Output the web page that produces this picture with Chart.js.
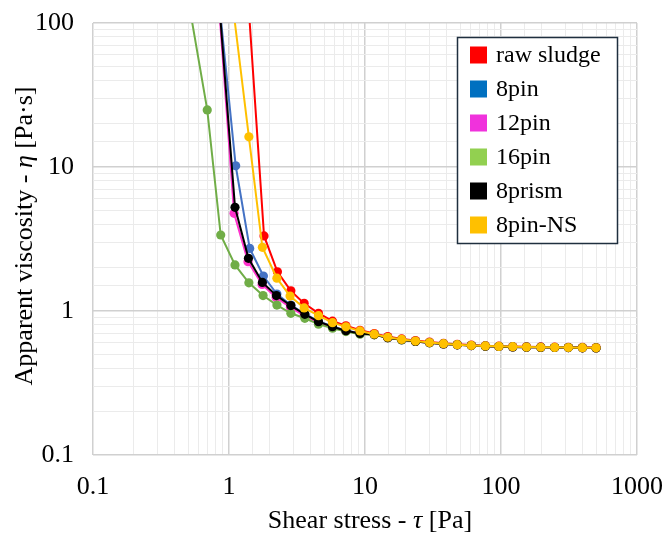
<!DOCTYPE html>
<html>
<head>
<meta charset="utf-8">
<script src="https://cdn.jsdelivr.net/npm/chart.js@4.4.1/dist/chart.umd.min.js"></script>
<style>
    html, body { margin: 0; padding: 0; background: #fff; }
    #contenedor { width: 667px; height: 534px; }
</style>
</head>
<body>
<div id="contenedor"><canvas id="graficoViscosidad"></canvas></div>
<script>
// Datos (tensión de corte en Pa, viscosidad en Pa·s)
const nombresSeries = ['raw sludge', '8pin', '12pin', '16pin', '8prism', '8pin-NS'];

const rawX = [1.35, 1.81, 2.27, 2.85, 3.57, 4.55, 5.77, 7.24, 9.19, 11.7, 14.7, 18.6, 23.5, 29.8, 37.8, 47.7, 60.5, 76.7, 96.5, 122, 154, 196, 248, 313, 397, 500];
const rawY = [205, 3.32, 1.87, 1.38, 1.13, 0.965, 0.85, 0.79, 0.735, 0.698, 0.664, 0.640, 0.623, 0.609, 0.597, 0.587, 0.580, 0.574, 0.570, 0.567, 0.564, 0.563, 0.561, 0.560, 0.559, 0.558];

const pin8X = [0.86, 1.12, 1.42, 1.79, 2.25, 2.85, 3.61, 4.55, 5.77, 7.24, 9.19, 11.7, 14.7, 18.6, 23.5, 29.8, 37.8, 47.7, 60.5, 76.7, 96.5, 122, 154, 196, 248, 313, 397, 500];
const pin8Y = [120, 10.2, 2.72, 1.75, 1.31, 1.10, 0.955, 0.85, 0.782, 0.733, 0.700, 0.686, 0.653, 0.632, 0.615, 0.602, 0.591, 0.582, 0.575, 0.570, 0.567, 0.563, 0.561, 0.559, 0.558, 0.557, 0.555, 0.554];

const pin12X = [0.84, 1.09, 1.38, 1.75, 2.22, 2.83, 3.57, 4.55, 5.77, 7.24, 9.19, 11.7, 14.7, 18.6, 23.5, 29.8, 37.8, 47.7, 60.5, 76.7, 96.5, 122, 154, 196, 248, 313, 397, 500];
const pin12Y = [140, 4.77, 2.2, 1.53, 1.24, 1.06, 0.93, 0.832, 0.77, 0.725, 0.694, 0.686, 0.653, 0.632, 0.615, 0.602, 0.591, 0.582, 0.575, 0.570, 0.567, 0.563, 0.561, 0.559, 0.558, 0.557, 0.555, 0.554];

const pin16X = [0.5, 0.692, 0.869, 1.107, 1.40, 1.78, 2.25, 2.85, 3.61, 4.55, 5.77, 7.24, 9.19, 11.7, 14.7, 18.6, 23.5, 29.8, 37.8, 47.7, 60.5, 76.7, 96.5, 122, 154, 196, 248, 313, 397, 500];
const pin16Y = [148, 24.9, 3.37, 2.09, 1.57, 1.28, 1.10, 0.964, 0.89, 0.81, 0.76, 0.72, 0.69, 0.683, 0.651, 0.630, 0.614, 0.601, 0.590, 0.582, 0.575, 0.570, 0.567, 0.563, 0.561, 0.559, 0.558, 0.557, 0.555, 0.554];

const prism8X = [0.85, 1.107, 1.39, 1.76, 2.23, 2.85, 3.61, 4.55, 5.77, 7.24, 9.19, 11.7, 14.7, 18.6, 23.5, 29.8, 37.8, 47.7, 60.5, 76.7, 96.5, 122, 154, 196, 248, 313, 397, 500];
const prism8Y = [132, 5.25, 2.32, 1.58, 1.28, 1.09, 0.948, 0.843, 0.778, 0.73, 0.698, 0.686, 0.653, 0.632, 0.615, 0.602, 0.591, 0.582, 0.575, 0.570, 0.567, 0.563, 0.561, 0.559, 0.558, 0.557, 0.555, 0.554];

const pinNSX = [1.08, 1.40, 1.76, 2.25, 2.81, 3.57, 4.55, 5.77, 7.24, 9.19, 11.7, 14.7, 18.6, 23.5, 29.8, 37.8, 47.7, 60.5, 76.7, 96.5, 122, 154, 196, 248, 313, 397, 500];
const pinNSY = [120, 16.2, 2.77, 1.69, 1.27, 1.05, 0.928, 0.83, 0.776, 0.727, 0.690, 0.657, 0.635, 0.618, 0.604, 0.593, 0.584, 0.577, 0.572, 0.568, 0.565, 0.562, 0.560, 0.559, 0.558, 0.556, 0.555];

// Etiquetas de los ejes
const etiquetasX = [0.1, 1, 10, 100, 1000];
const etiquetasY = [0.1, 1, 10, 100];

// Colores: línea/marcador y cuadro de la leyenda
const coloresLinea = ['#ff0000', '#4472c4', '#ff33cc', '#70ad47', '#000000', '#ffc000'];
const coloresLeyenda = ['#ff0000', '#0070c0', '#f032dc', '#92d050', '#000000', '#ffc000'];

const seriesX = [rawX, pin8X, pin12X, pin16X, prism8X, pinNSX];
const seriesY = [rawY, pin8Y, pin12Y, pin16Y, prism8Y, pinNSY];

const fuente = 'Liberation Serif, Times New Roman, serif';

const datasets = nombresSeries.map((nombre, i) => ({
    label: nombre,
    data: seriesX[i].map((x, j) => ({ x: x, y: seriesY[i][j] })),
    showLine: true,
    borderColor: coloresLinea[i],
    backgroundColor: coloresLinea[i],
    pointBackgroundColor: coloresLinea[i],
    pointBorderColor: coloresLinea[i],
    borderWidth: 2,
    pointRadius: 4.6,
    pointBorderWidth: 0,
    order: nombresSeries.length - i // la última serie queda encima
}));

function esDecada(v) {
    const l = Math.log10(v);
    return Math.abs(l - Math.round(l)) < 1e-6;
}

function buscarEtiqueta(lista, v) {
    const t = lista.find(e => Math.abs(Math.log10(e) - Math.log10(v)) < 1e-6);
    return t === undefined ? '' : String(t);
}

const rejilla = {
    drawTicks: false,
    color: c => (c.tick && esDecada(c.tick.value)) ? '#d0d0d0' : '#ebebeb',
    lineWidth: c => (c.tick && esDecada(c.tick.value)) ? 1.5 : 1
};

// sin relleno extra por las etiquetas de los extremos
function sinRelleno(s) {
    s.paddingTop = 0; s.paddingBottom = 0; s.paddingLeft = 0; s.paddingRight = 0;
}

// Leyenda dentro del área del gráfico
const pluginLeyenda = {
    id: 'leyenda',
    afterDraw(chart) {
        const ctx = chart.ctx;
        ctx.save();
        ctx.fillStyle = '#ffffff';
        ctx.fillRect(457, 37, 160, 206);
        ctx.strokeStyle = '#1f2f3f';
        ctx.lineWidth = 1.5;
        ctx.strokeRect(457.5, 37.5, 160, 206);
        ctx.font = '24px ' + fuente;
        ctx.textBaseline = 'middle';
        ctx.textAlign = 'left';
        nombresSeries.forEach((nombre, i) => {
            const y = 55 + i * 34;
            ctx.fillStyle = coloresLeyenda[i];
            ctx.fillRect(470, y - 8.5, 17, 17);
            ctx.fillStyle = '#000';
            ctx.fillText(nombre, 496, y + 1);
        });
        ctx.restore();
    }
};

// Títulos de los ejes con la letra griega en cursiva
function dibujarPartes(ctx, partes, cx, cy) {
    let total = 0;
    partes.forEach(p => { ctx.font = (p.it ? 'italic ' : '') + '26px ' + fuente; p.w = ctx.measureText(p.t).width; total += p.w; });
    let x = cx - total / 2;
    partes.forEach(p => {
        ctx.font = (p.it ? 'italic ' : '') + '26px ' + fuente;
        ctx.fillText(p.t, x, cy);
        x += p.w;
    });
}

const pluginTitulos = {
    id: 'titulos',
    afterDraw(chart) {
        const ctx = chart.ctx;
        ctx.save();
        ctx.fillStyle = '#000';
        ctx.textBaseline = 'middle';
        ctx.textAlign = 'left';
        dibujarPartes(ctx, [{ t: 'Shear stress - ' }, { t: 'τ', it: true }, { t: ' [Pa]' }], 370, 521);
        ctx.translate(25, 236);
        ctx.rotate(-Math.PI / 2);
        dibujarPartes(ctx, [{ t: 'Apparent viscosity - ' }, { t: 'η', it: true }, { t: ' [Pa·s]' }], 0, 0);
        ctx.restore();
    }
};

const opciones = {
    responsive: true,
    maintainAspectRatio: false,
    animation: false,
    layout: { padding: { top: 23, right: 30, left: 0, bottom: 0 } },
    plugins: {
        legend: { display: false },
        tooltip: { enabled: false }
    },
    scales: {
        x: {
            type: 'logarithmic',
            position: 'bottom',
            min: 0.1,
            max: 1000,
            grid: rejilla,
            border: { display: false },
            ticks: {
                autoSkip: false,
                maxRotation: 0,
                padding: 17,
                color: '#000',
                font: { family: fuente, size: 26 },
                callback: v => buscarEtiqueta(etiquetasX, v)
            },
            afterFit: s => { s.height = 79; sinRelleno(s); }
        },
        y: {
            type: 'logarithmic',
            min: 0.1,
            max: 100,
            grid: rejilla,
            border: { display: false },
            ticks: {
                autoSkip: false,
                padding: 19,
                color: '#000',
                font: { family: fuente, size: 26 },
                callback: v => buscarEtiqueta(etiquetasY, v)
            },
            afterFit: s => { s.width = 93; sinRelleno(s); }
        }
    }
};

const ctx = document.getElementById('graficoViscosidad').getContext('2d');
const miGrafico = new Chart(ctx, {
    type: 'scatter',
    data: { datasets: datasets },
    options: opciones,
    plugins: [pluginLeyenda, pluginTitulos]
});
</script>
</body>
</html>
